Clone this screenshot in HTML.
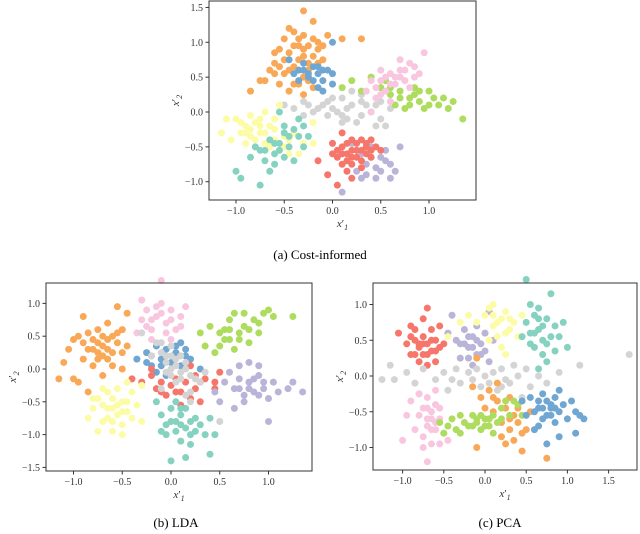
<!DOCTYPE html>
<html><head><meta charset="utf-8"><style>
html,body{margin:0;padding:0;background:#fff}
svg{display:block;font-family:"Liberation Serif","DejaVu Serif",serif}
</style></head><body>
<svg id="fig" width="640" height="534" viewBox="0 0 640 534"></svg>
<script>
const colors={orange:"#f9a857",blue:"#6fa7d2",gray:"#d4d4d4",green:"#aedc5e",pink:"#f9c6e0",yellow:"#fdfca6",teal:"#85d2c0",lavender:"#bab4d8",salmon:"#f6766b"};
const panelAxes=[
 {name:"cost-informed",box:[209,1,476,200],x0:332.5,xs:96.5,y0:112,ys:69.7,xticks:[-1,-0.5,0,0.5,1],yticks:[1.5,1,0.5,0,-0.5,-1],caption:"(a) Cost-informed",capY:259},
 {name:"lda",box:[46,283,312,471],x0:171,xs:97.5,y0:369,ys:65.6,xticks:[-1,-0.5,0,0.5,1],yticks:[1,0.5,0,-0.5,-1,-1.5],caption:"(b) LDA",capY:527},
 {name:"pca",box:[373,283,637,470],x0:485,xs:82.4,y0:376,ys:71.5,xticks:[-1,-0.5,0,0.5,1,1.5],yticks:[1,0.5,0,-0.5,-1],caption:"(c) PCA",capY:527}
];
const dataA={
orange:"-0.3 1.45;-0.2 1.3;-0.05 1.1;0.1 1.05;0.3 1.05;-0.4 1.15;-0.5 1.05;-0.55 0.9;-0.6 0.7;-0.65 0.6;-0.75 0.45;-0.85 0.3;-0.45 0.85;-0.35 0.95;-0.3 0.8;-0.25 0.7;-0.4 0.65;-0.5 0.55;-0.3 0.5;-0.15 0.9;-0.1 0.75;-0.45 0.3;-0.3 0.25;-0.2 0.35;-0.55 0.4;-0.35 0.4;-0.25 0.6;-0.15 1.0;-0.45 1.2;-0.6 0.85;-0.35 1.05;-0.25 0.95;-0.4 0.95;-0.3 0.9;-0.2 0.8;-0.5 0.75;-0.35 0.75;-0.45 0.6;-0.25 0.45;-0.4 0.4;-0.55 0.65;-0.3 1.1;-0.1 0.95;-0.2 1.05;-0.6 0.55;-0.7 0.45;-0.15 0.7",
blue:"-0.45 0.75;-0.35 0.6;-0.25 0.5;-0.15 0.55;-0.1 0.45;-0.05 0.6;0.0 0.4;-0.2 0.65;-0.3 0.7;-0.4 0.55;-0.15 0.35;0.0 1.0;-0.1 0.6;-0.25 0.55;-0.2 0.45;-0.3 0.6;-0.1 0.3;0.0 0.55;-0.15 0.65;-0.35 0.45",
gray:"-0.5 0.1;-0.4 0.05;-0.3 0.15;-0.2 0.0;-0.1 0.1;0.0 0.05;0.1 -0.05;0.2 0.1;0.3 -0.05;0.4 0.0;0.5 -0.1;0.6 0.05;0.55 -0.2;0.1 0.2;-0.05 -0.05;0.25 -0.15;0.15 -0.1;-0.3 -0.05;0.35 0.1;0.0 0.2;0.2 0.3;0.3 0.15;0.45 -0.2;-0.15 0.05;0.05 0.0;0.15 0.05;-0.25 0.1;0.1 -0.15;0.45 0.1;0.3 0.25;-0.05 0.15;0.5 0.15",
green:"0.1 0.35;0.2 0.45;0.4 0.5;0.5 0.35;0.6 0.25;0.7 0.3;0.8 0.2;0.9 0.15;1.0 0.3;1.1 0.1;1.2 0.05;1.25 0.15;1.35 -0.1;0.75 0.05;0.85 0.35;0.95 0.05;1.05 0.2;0.65 0.1;0.55 0.45;0.3 0.3;0.8 0.1;0.9 0.3;0.7 0.2;1.0 0.1;0.6 0.35;0.85 0.25;1.15 0.2",
pink:"0.5 0.45;0.6 0.55;0.7 0.6;0.8 0.7;0.95 0.85;0.55 0.3;0.45 0.2;0.65 0.4;0.75 0.45;0.85 0.5;0.6 0.15;0.4 0.0;0.5 0.6;0.7 0.75;0.9 0.55;0.35 0.3;0.65 0.5;0.8 0.35;0.55 0.5;0.6 0.4;0.7 0.5;0.45 0.35;0.75 0.6;0.5 0.25;0.85 0.65;0.4 0.45",
yellow:"-1.15 -0.3;-1.1 -0.1;-1.0 -0.1;-0.95 -0.3;-0.9 -0.2;-0.85 -0.35;-0.8 -0.15;-0.75 -0.3;-0.7 -0.45;-0.65 -0.2;-0.6 -0.4;-0.55 -0.55;-0.5 -0.35;-0.45 -0.6;-0.4 -0.3;-0.3 -0.45;-0.2 -0.45;-0.2 -0.15;-0.9 -0.45;-1.05 -0.4;-0.55 0.1;-0.35 -0.6;-0.85 -0.05;-0.7 0.0;-0.95 -0.15;-0.85 -0.25;-0.75 -0.2;-0.8 -0.4;-0.7 -0.3;-0.6 -0.25;-0.65 -0.5;-0.5 -0.5;-0.9 -0.3;-0.75 -0.1;-0.6 -0.1;-0.45 -0.4",
teal:"-0.85 -0.65;-0.75 -0.55;-0.7 -0.7;-0.65 -0.85;-0.6 -0.6;-0.55 -0.45;-0.5 -0.3;-0.45 -0.5;-0.4 -0.25;-0.35 -0.1;-0.3 -0.2;-0.25 -0.35;-0.4 -0.7;-1.0 -0.85;-0.95 -0.95;-0.75 -1.05;-0.6 -0.75;-0.5 -0.65;-0.65 -0.4;-0.55 0.0;-0.3 -0.5;-0.7 -0.55;-0.55 -0.55;-0.45 -0.35;-0.35 -0.35;-0.6 -0.45;-0.8 -0.5;-0.5 -0.2",
lavender:"0.2 -0.45;0.3 -0.6;0.35 -0.75;0.45 -0.8;0.5 -0.65;0.55 -0.55;0.6 -0.75;0.65 -0.85;0.7 -0.5;0.25 -0.85;0.1 -1.15;0.3 -0.95;0.45 -0.95;0.6 -0.95;0.4 -0.5;0.15 -0.7;0.5 -0.85;0.55 -0.7;0.35 -0.9;0.4 -0.65",
salmon:"0.0 -0.45;0.05 -0.55;0.1 -0.5;0.15 -0.6;0.2 -0.55;0.25 -0.45;0.3 -0.55;0.35 -0.6;0.4 -0.65;0.45 -0.5;0.5 -0.55;0.2 -0.75;0.25 -0.65;0.3 -0.7;0.15 -0.85;0.2 -0.95;0.1 -0.3;0.35 -0.45;-0.15 -0.7;-0.05 -0.9;0.05 -1.05;0.4 -0.4;0.1 -0.75;0.3 -0.4;0.2 -0.65;0.05 -0.65;0.15 -0.45;0.25 -0.55;0.35 -0.5;0.1 -0.6;0.3 -0.8;0.2 -0.4;0.4 -0.55;0.0 -0.6;0.15 -0.7"
};
const dataB={
orange:"-1.15 -0.15;-1.1 0.1;-1.05 0.3;-1.0 0.45;-0.95 0.5;-0.9 0.15;-0.9 0.8;-0.85 0.3;-0.8 0.45;-0.8 0.05;-0.75 0.25;-0.75 0.6;-0.7 0.35;-0.7 -0.1;-0.65 0.15;-0.6 0.5;-0.55 0.4;-0.5 0.6;-0.5 0.25;-0.55 0.95;-0.45 0.85;-0.45 0.35;-0.6 0.05;-0.85 -0.35;-0.95 -0.2;-1.0 -0.15;-0.65 0.7;-0.5 0.0;-0.75 0.15;-0.85 0.55;-0.7 0.2;-0.65 0.3;-0.8 0.3;-0.75 0.4;-0.6 0.25;-0.7 0.5;-0.9 0.4;-0.65 0.45;-0.55 0.55",
pink:"-0.35 0.55;-0.3 0.75;-0.25 0.9;-0.2 0.6;-0.15 0.8;-0.1 1.0;-0.05 0.7;0.0 0.9;0.05 0.6;0.1 0.8;0.15 0.95;-0.1 1.35;-0.3 1.05;-0.2 0.45;0.0 0.45;-0.15 0.95;0.1 0.65;-0.25 0.65;-0.1 0.85;-0.05 0.55;-0.2 0.75;0.0 0.75",
green:"0.3 0.55;0.4 0.65;0.5 0.55;0.5 0.35;0.6 0.45;0.6 0.75;0.65 0.3;0.7 0.55;0.75 0.65;0.8 0.4;0.85 0.75;0.9 0.55;0.95 0.85;1.0 0.9;1.05 0.8;1.25 0.8;0.45 0.25;0.75 0.85;0.55 0.6;0.35 0.35;0.65 0.85;0.9 0.7;0.6 0.6;0.7 0.45;0.55 0.45;0.8 0.6",
blue:"-0.35 0.15;-0.25 0.25;-0.2 0.05;-0.15 0.35;-0.1 0.15;-0.05 0.3;0.0 0.1;0.05 0.25;0.1 0.05;0.15 0.3;0.2 0.15;0.3 0.0;-0.15 -0.05;-0.05 -0.1;0.1 0.4;-0.25 0.1;-0.1 0.05;0.05 0.35;-0.2 0.2;0.15 0.2",
salmon:"-0.4 -0.15;-0.3 -0.2;-0.2 -0.1;-0.15 -0.3;-0.1 -0.2;-0.05 -0.4;0.0 -0.25;0.05 -0.15;0.1 -0.35;0.15 -0.2;0.2 -0.45;0.25 -0.3;0.3 -0.5;0.35 -0.15;0.45 -0.2;0.5 -0.05;0.45 -0.3;0.3 -0.2;-0.2 0.0;0.1 -0.55;0.2 0.05;-0.1 -0.35;0.05 -0.35;0.25 -0.1",
gray:"-0.3 0.55;-0.15 0.4;-0.1 0.25;-0.05 0.1;0.0 0.0;0.05 0.15;0.1 -0.05;0.15 0.1;0.2 -0.1;0.25 -0.15;0.3 -0.2;-0.05 -0.05;0.0 0.35;0.1 0.2;0.2 -0.35;0.35 -0.05;-0.2 0.2;0.05 -0.2;0.5 -0.8;0.15 -0.4;-0.1 -0.3;0.2 -0.5;0.0 0.2;0.05 0.05;-0.05 0.2;0.1 -0.15;0.15 0.0;0.0 -0.1;-0.1 0.4",
yellow:"-0.85 -0.75;-0.8 -0.6;-0.75 -0.45;-0.7 -0.8;-0.7 -0.3;-0.65 -0.6;-0.6 -0.95;-0.6 -0.45;-0.55 -0.7;-0.55 -0.3;-0.5 -0.5;-0.5 -0.85;-0.45 -0.65;-0.4 -0.35;-0.4 -0.75;-0.35 -0.55;-0.3 -0.8;-0.3 -0.25;-0.5 -1.0;-0.65 -0.35;-0.75 -0.95;-0.45 -0.2;-0.6 -0.6;-0.65 -0.75;-0.55 -0.55;-0.45 -0.5;-0.7 -0.55;-0.6 -0.8;-0.5 -0.65;-0.8 -0.45",
teal:"-0.15 -0.5;-0.1 -0.7;-0.05 -0.85;-0.05 -1.0;0.0 -0.6;0.0 -0.8;0.05 -0.95;0.05 -0.5;0.1 -0.7;0.1 -1.1;0.15 -0.9;0.15 -0.6;0.2 -1.0;0.25 -0.75;0.3 -0.85;0.35 -1.0;0.4 -0.75;0.45 -1.0;0.0 -1.4;0.15 -1.35;0.4 -1.3;0.2 -1.15;-0.1 -0.95;0.05 -0.8;0.1 -0.85;0.2 -0.8;0.1 -0.6;0.25 -0.95",
lavender:"0.45 -0.35;0.55 -0.2;0.6 -0.05;0.65 -0.3;0.65 -0.6;0.7 -0.15;0.75 -0.4;0.8 -0.2;0.8 0.1;0.85 -0.35;0.9 -0.1;0.95 -0.3;1.0 -0.45;1.0 -0.8;1.05 -0.2;1.1 -0.35;1.2 -0.3;1.25 -0.2;1.35 -0.35;0.7 0.05;0.9 0.05;0.75 -0.5;0.5 -0.5;0.8 -0.3;0.85 -0.15;0.7 -0.3;0.9 -0.4;0.95 -0.2"
};
const dataC={
salmon:"-1.05 0.6;-0.95 0.45;-0.9 0.7;-0.85 0.3;-0.85 0.5;-0.8 0.4;-0.8 0.2;-0.75 0.55;-0.75 0.3;-0.7 0.45;-0.7 0.15;-0.7 0.95;-0.65 0.65;-0.65 0.35;-0.6 0.5;-0.6 0.2;-0.55 0.4;-0.55 0.7;-0.5 0.45;-0.9 0.3;-0.75 0.8;-0.85 0.65;-0.8 0.45;-0.7 0.3;-0.75 0.45;-0.65 0.5;-0.9 0.55;-0.6 0.35",
lavender:"-0.4 0.85;-0.35 0.5;-0.3 0.25;-0.25 0.65;-0.2 0.4;-0.15 0.55;-0.1 0.3;-0.1 0.7;-0.05 0.45;0.0 0.35;0.0 0.6;0.05 0.2;0.05 0.9;-0.2 0.25;-0.3 0.45;0.1 0.5;-0.15 0.15;-0.45 0.6;-0.15 0.4;-0.1 0.5;-0.2 0.55;-0.05 0.3;-0.25 0.45",
yellow:"-0.45 0.55;-0.3 0.75;-0.2 0.85;-0.1 0.75;0.0 0.85;0.05 0.95;0.1 0.7;0.1 1.0;0.15 0.55;0.2 0.8;0.2 0.4;0.25 0.9;0.3 0.65;0.35 0.75;0.4 0.55;0.25 0.3;0.05 0.5;0.45 0.85;0.15 0.75;0.25 0.6;0.1 0.85;0.3 0.8",
teal:"0.45 0.55;0.5 0.75;0.5 1.35;0.55 1.0;0.55 0.6;0.6 0.85;0.6 0.4;0.65 0.65;0.65 0.95;0.7 0.5;0.7 0.3;0.75 0.8;0.75 0.2;0.8 0.55;0.85 0.7;0.85 0.35;0.9 0.55;0.95 0.75;1.0 0.4;0.8 1.15;0.65 0.1;0.55 0.45;0.7 0.7;0.6 0.6;0.75 0.45;0.65 0.8",
gray:"-1.25 -0.05;-1.15 0.15;-1.1 -0.05;-0.95 0.05;-0.85 -0.1;-0.75 0.1;-0.6 -0.05;-0.5 0.05;-0.45 -0.2;-0.35 0.1;-0.3 -0.1;-0.2 0.05;-0.1 0.1;-0.05 -0.15;0.0 0.0;0.1 0.05;0.15 -0.2;0.2 0.1;0.25 -0.05;0.3 -0.1;0.35 0.15;0.4 0.0;0.5 0.1;0.55 -0.15;0.65 0.0;0.75 -0.1;0.9 0.05;1.15 0.15;1.75 0.3;-0.8 -0.25;0.45 -0.3;-0.15 -0.05;0.05 -0.1;0.2 -0.15;-0.4 -0.05",
orange:"-0.15 -0.15;-0.1 0.25;-0.05 -0.3;0.0 -0.45;0.05 -0.2;0.1 -0.5;0.15 -0.35;0.2 -0.65;0.25 -0.45;0.3 -0.75;0.35 -0.55;0.35 -0.9;0.4 -0.65;0.45 -1.05;0.45 -0.8;0.5 -0.75;0.25 -0.95;-0.1 -1.0;0.15 -0.1;0.3 -0.3;0.05 -0.6;0.55 -0.5;0.75 -1.15;0.4 -0.45;0.2 -0.85;0.3 -0.6;0.1 -0.3",
pink:"-1.0 -0.9;-0.95 -0.55;-0.9 -0.35;-0.85 -0.75;-0.8 -0.25;-0.8 -0.55;-0.75 -0.45;-0.75 -0.85;-0.7 -0.6;-0.7 -0.3;-0.7 -1.2;-0.65 -0.75;-0.65 -0.5;-0.6 -0.65;-0.6 -0.4;-0.55 -0.95;-0.55 -0.6;-0.5 -0.8;-0.65 -0.95;-0.75 -1.0;-0.6 -0.2;-0.45 -0.9;-0.7 -0.45;-0.65 -0.6;-0.6 -0.75;-0.7 -0.7;-0.55 -0.45",
green:"-0.55 -0.65;-0.45 -0.7;-0.4 -0.6;-0.35 -0.75;-0.3 -0.55;-0.25 -0.65;-0.2 -0.7;-0.15 -0.55;-0.1 -0.65;-0.05 -0.75;0.0 -0.6;0.05 -0.7;0.1 -0.55;0.15 -0.65;0.2 -0.45;0.25 -0.35;0.3 -0.55;0.35 -0.35;0.4 -0.4;0.45 -0.55;-0.5 -0.8;0.1 -0.8;-0.3 -0.8;-0.15 -0.7;0.0 -0.7;-0.1 -0.6;0.05 -0.6;0.2 -0.6;-0.05 -0.55",
blue:"0.45 -0.35;0.5 -0.55;0.55 -0.3;0.6 -0.5;0.65 -0.7;0.65 -0.35;0.7 -0.45;0.7 -0.25;0.75 -0.55;0.75 -0.35;0.8 -0.45;0.85 -0.3;0.85 -0.65;0.9 -0.5;0.95 -0.4;1.0 -0.6;1.05 -0.35;1.1 -0.5;1.15 -0.55;1.2 -0.6;1.1 -0.8;0.9 -0.85;0.75 -0.95;0.6 -0.75;0.9 -0.2;0.8 -0.4;0.7 -0.6;0.8 -0.55;0.65 -0.45;0.85 -0.45"
};
const panelData=[dataA,dataB,dataC];
const NS="http://www.w3.org/2000/svg";
const svg=document.getElementById('fig');
function mk(tag,attrs,parent){const e=document.createElementNS(NS,tag);for(const k in attrs)e.setAttribute(k,attrs[k]);(parent||svg).appendChild(e);return e;}
function fmt(v){return (v<0?"\u2212":"")+Math.abs(v).toFixed(1);}
panelAxes.forEach((p,i)=>{
  const g=mk('g',{});
  
  
  const [l,t,r,b]=p.box;
  const sx=v=>p.x0+v*p.xs, sy=v=>p.y0-v*p.ys;
  const pts=mk('g',{},g);
  
  
  const d=panelData[i];
  for(const cl in d){
    d[cl].split(';').forEach(s=>{
      const [x,y]=s.trim().split(/\s+/).map(Number);
      const c=mk('circle',{cx:sx(x),cy:sy(y),r:3.5,fill:colors[cl]},pts);
      
      
    });
  }
  const fr=mk('rect',{x:l,y:t,width:r-l,height:b-t,fill:'none',stroke:'#333','stroke-width':1},g);
  
  
  p.xticks.forEach(v=>{
    const X=sx(v);
    mk('line',{x1:X,x2:X,y1:b,y2:b+3.5,stroke:'#333'},g);
    const tx=mk('text',{x:X,y:b+14,'font-size':10,'text-anchor':'middle',fill:'#333'},g);
    tx.textContent=fmt(v);
    
    
  });
  p.yticks.forEach(v=>{
    const Y=sy(v);
    mk('line',{x1:l-3.5,x2:l,y1:Y,y2:Y,stroke:'#333'},g);
    const tx=mk('text',{x:l-6,y:Y+3.5,'font-size':10,'text-anchor':'end',fill:'#333'},g);
    tx.textContent=fmt(v);
    
    
  });
  const cx=(l+r)/2;
  const xl=mk('text',{x:cx,y:b+27,'font-size':11,'text-anchor':'middle','font-style':'italic',fill:'#333'},g);
  xl.innerHTML='x<tspan font-style="normal">′</tspan><tspan font-size="8" dy="3">1</tspan>';
  
  
  const cy=(t+b)/2;
  const yl=mk('text',{x:0,y:0,'font-size':11,'text-anchor':'middle','font-style':'italic',fill:'#333',transform:`translate(${l-30},${cy}) rotate(-90)`},g);
  yl.innerHTML='x<tspan font-style="normal">′</tspan><tspan font-size="8" dy="3">2</tspan>';
  
  
  const cap=mk('text',{x:i===0?320:(i===1?176:500),y:p.capY,'font-size':13,'text-anchor':'middle',fill:'#000'},g);
  cap.textContent=p.caption;
  
  
});
</script>
</body></html>
